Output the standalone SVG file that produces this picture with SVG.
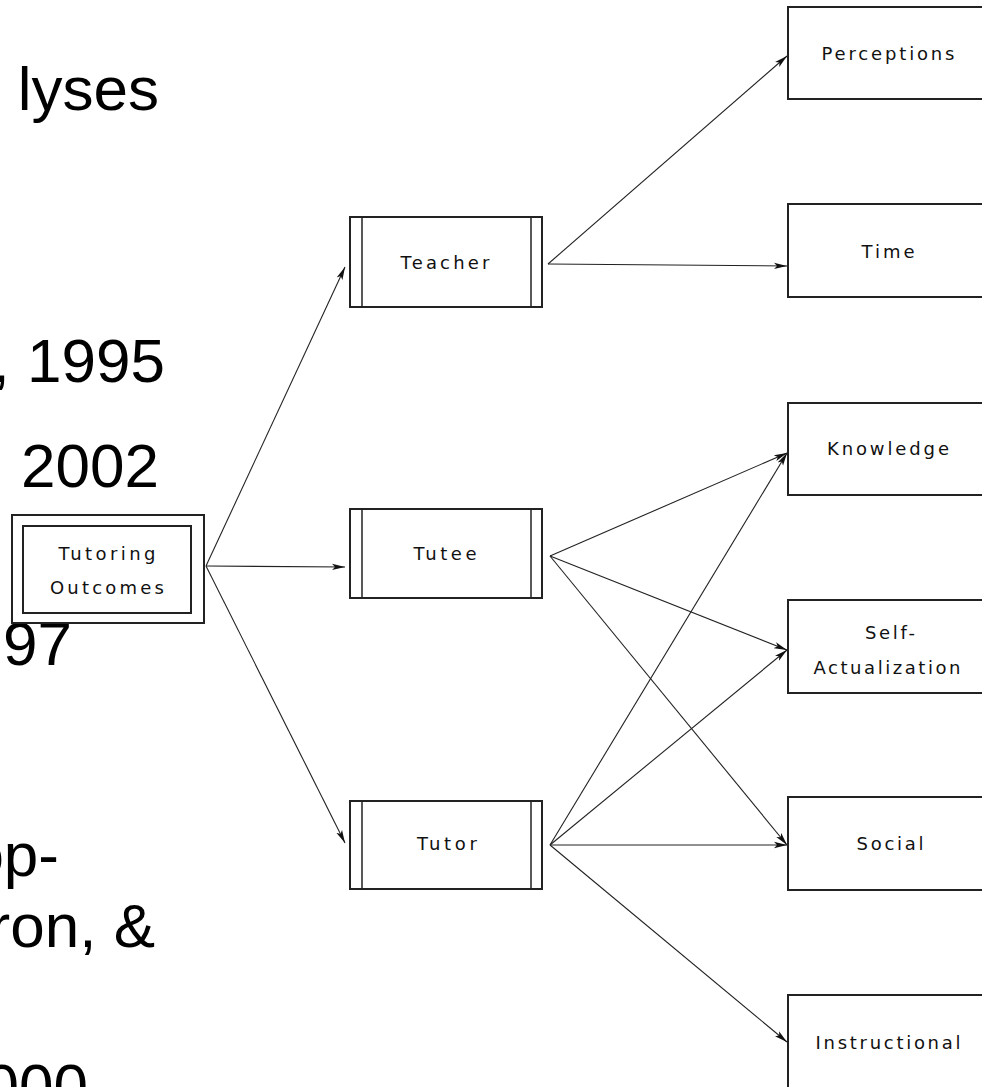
<svg xmlns="http://www.w3.org/2000/svg" width="982" height="1087" viewBox="0 0 982 1087">
<style>
.bg{font-family:"Liberation Sans",Arial,sans-serif;font-size:62px;fill:#000}
.box{fill:#fff;stroke:#222;stroke-width:2}
.ln{stroke:#222;stroke-width:1.5}
.lbl{font-family:"DejaVu Sans",sans-serif;font-size:18px;fill:#111;text-anchor:middle;dominant-baseline:central}
.cn{stroke:#222;stroke-width:1.1;fill:none;marker-end:url(#ah)}
</style>
<defs>
<marker id="ah" markerUnits="userSpaceOnUse" markerWidth="13" markerHeight="8" refX="13" refY="4" orient="auto">
<path d="M0,0.8 L13,4 L0,7.2 L3,4 z" fill="#111"/>
</marker>
</defs>
<rect width="982" height="1087" fill="#fff"/>
<g id="background-text">
<text class="bg" x="159" y="110" text-anchor="end" font-size="71">lyses</text>
<text class="bg" x="165" y="382" text-anchor="end">, 1995</text>
<text class="bg" x="159" y="487" text-anchor="end">2002</text>
<text class="bg" x="72" y="665" text-anchor="end">97</text>
<text class="bg" x="59" y="876" text-anchor="end">op-</text>
<text class="bg" x="155" y="947" text-anchor="end">ron, &amp;</text>
<text class="bg" x="88" y="1107" text-anchor="end">000</text>
</g>
<g id="connectors">
<line class="cn" x1="206" y1="566" x2="345" y2="267"/>
<line class="cn" x1="206" y1="566" x2="345" y2="567"/>
<line class="cn" x1="206" y1="566" x2="345" y2="843"/>
<line class="cn" x1="548" y1="264" x2="787" y2="56"/>
<line class="cn" x1="548" y1="264" x2="787" y2="266"/>
<line class="cn" x1="550" y1="556" x2="787" y2="453"/>
<line class="cn" x1="550" y1="556" x2="787" y2="650"/>
<line class="cn" x1="550" y1="556" x2="787" y2="845"/>
<line class="cn" x1="550" y1="845" x2="787" y2="453"/>
<line class="cn" x1="550" y1="845" x2="787" y2="650"/>
<line class="cn" x1="550" y1="845" x2="787" y2="845"/>
<line class="cn" x1="550" y1="845" x2="787" y2="1042"/>
</g>
<g id="tutoring-outcomes">
<rect class="box" x="12" y="515" width="192" height="108"/>
<rect class="box" x="23" y="526" width="168" height="87"/>
<text class="lbl" x="107" y="553" textLength="97" lengthAdjust="spacing">Tutoring</text>
<text class="lbl" x="107" y="587" textLength="114" lengthAdjust="spacing">Outcomes</text>
</g>
<g id="teacher">
<rect class="box" x="350" y="217" width="192" height="90"/>
<line class="ln" x1="362" y1="217" x2="362" y2="307"/>
<line class="ln" x1="531" y1="217" x2="531" y2="307"/>
<text class="lbl" x="445" y="262" textLength="89" lengthAdjust="spacing">Teacher</text>
</g>
<g id="tutee">
<rect class="box" x="350" y="509" width="192" height="89"/>
<line class="ln" x1="362" y1="509" x2="362" y2="598"/>
<line class="ln" x1="531" y1="509" x2="531" y2="598"/>
<text class="lbl" x="445" y="553" textLength="63" lengthAdjust="spacing">Tutee</text>
</g>
<g id="tutor">
<rect class="box" x="350" y="801" width="192" height="88"/>
<line class="ln" x1="362" y1="801" x2="362" y2="889"/>
<line class="ln" x1="531" y1="801" x2="531" y2="889"/>
<text class="lbl" x="447" y="843" textLength="60" lengthAdjust="spacing">Tutor</text>
</g>
<g id="perceptions">
<rect class="box" x="788" y="7" width="200" height="92"/>
<text class="lbl" x="888" y="53" textLength="133" lengthAdjust="spacing">Perceptions</text>
</g>
<g id="time">
<rect class="box" x="788" y="204" width="200" height="93"/>
<text class="lbl" x="888" y="251" textLength="53" lengthAdjust="spacing">Time</text>
</g>
<g id="knowledge">
<rect class="box" x="788" y="403" width="200" height="92"/>
<text class="lbl" x="888" y="448" textLength="122" lengthAdjust="spacing">Knowledge</text>
</g>
<g id="self-actualization">
<rect class="box" x="788" y="600" width="200" height="93"/>
<text class="lbl" x="890" y="632" textLength="50" lengthAdjust="spacing">Self-</text>
<text class="lbl" x="887" y="667" textLength="147" lengthAdjust="spacing">Actualization</text>
</g>
<g id="social">
<rect class="box" x="788" y="797" width="200" height="93"/>
<text class="lbl" x="890" y="843" textLength="67" lengthAdjust="spacing">Social</text>
</g>
<g id="instructional">
<rect class="box" x="788" y="995" width="200" height="100"/>
<text class="lbl" x="888" y="1042" textLength="145" lengthAdjust="spacing">Instructional</text>
</g>
</svg>
